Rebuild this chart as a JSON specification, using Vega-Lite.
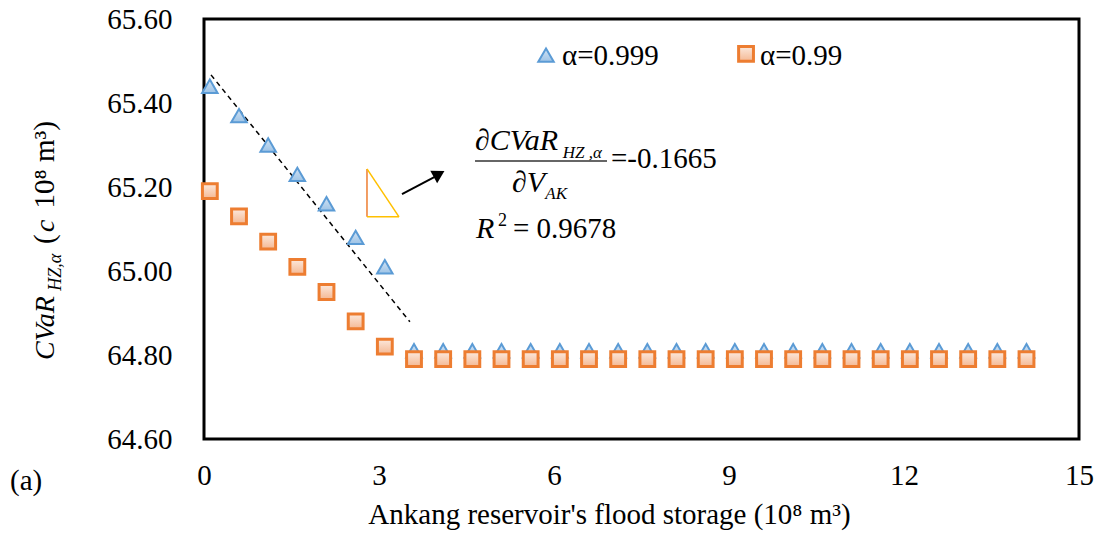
{
  "$schema": "https://vega.github.io/schema/vega-lite/v6.json",
  "width": 875,
  "height": 420,
  "autosize": {"type": "none"},
  "padding": {"left": 204, "top": 19, "right": 22, "bottom": 98},
  "background": "white",
  "config": {
    "font": "Liberation Serif",
    "view": {"stroke": "black", "strokeWidth": 3},
    "axis": {"domain": false, "ticks": false, "grid": false, "labelColor": "black", "labelFont": "Liberation Serif", "labelFontSize": 29, "titleFont": "Liberation Serif", "titleFontWeight": "normal", "titleColor": "black"}
  },
  "datasets": {
    "tri": [
      {"x": 0.1, "y": 65.44}, {"x": 0.6, "y": 65.37}, {"x": 1.1, "y": 65.30}, {"x": 1.6, "y": 65.23},
      {"x": 2.1, "y": 65.16}, {"x": 2.6, "y": 65.08}, {"x": 3.1, "y": 65.01}, {"x": 3.6, "y": 64.81},
      {"x": 4.1, "y": 64.81}, {"x": 4.6, "y": 64.81}, {"x": 5.1, "y": 64.81}, {"x": 5.6, "y": 64.81},
      {"x": 6.1, "y": 64.81}, {"x": 6.6, "y": 64.81}, {"x": 7.1, "y": 64.81}, {"x": 7.6, "y": 64.81},
      {"x": 8.1, "y": 64.81}, {"x": 8.6, "y": 64.81}, {"x": 9.1, "y": 64.81}, {"x": 9.6, "y": 64.81},
      {"x": 10.1, "y": 64.81}, {"x": 10.6, "y": 64.81}, {"x": 11.1, "y": 64.81}, {"x": 11.6, "y": 64.81},
      {"x": 12.1, "y": 64.81}, {"x": 12.6, "y": 64.81}, {"x": 13.1, "y": 64.81}, {"x": 13.6, "y": 64.81},
      {"x": 14.1, "y": 64.81}
    ],
    "sq": [
      {"x": 0.1, "y": 65.19}, {"x": 0.6, "y": 65.13}, {"x": 1.1, "y": 65.07}, {"x": 1.6, "y": 65.01},
      {"x": 2.1, "y": 64.95}, {"x": 2.6, "y": 64.88}, {"x": 3.1, "y": 64.82}, {"x": 3.6, "y": 64.79},
      {"x": 4.1, "y": 64.79}, {"x": 4.6, "y": 64.79}, {"x": 5.1, "y": 64.79}, {"x": 5.6, "y": 64.79},
      {"x": 6.1, "y": 64.79}, {"x": 6.6, "y": 64.79}, {"x": 7.1, "y": 64.79}, {"x": 7.6, "y": 64.79},
      {"x": 8.1, "y": 64.79}, {"x": 8.6, "y": 64.79}, {"x": 9.1, "y": 64.79}, {"x": 9.6, "y": 64.79},
      {"x": 10.1, "y": 64.79}, {"x": 10.6, "y": 64.79}, {"x": 11.1, "y": 64.79}, {"x": 11.6, "y": 64.79},
      {"x": 12.1, "y": 64.79}, {"x": 12.6, "y": 64.79}, {"x": 13.1, "y": 64.79}, {"x": 13.6, "y": 64.79},
      {"x": 14.1, "y": 64.79}
    ]
  },
  "layer": [
    {
      "data": {"values": [{"x": 0}]},
      "mark": {"type": "point", "opacity": 0},
      "encoding": {
        "x": {"field": "x", "type": "quantitative", "scale": {"domain": [0, 15], "nice": false, "zero": false},
              "axis": {"values": [0, 3, 6, 9, 12, 15], "format": "d", "labelFlush": false, "labelFont": "Liberation Serif", "labelFontSize": 29, "labelPadding": 22, "title": "Ankang reservoir's flood storage (10⁸ m³)", "titleFont": "Liberation Serif", "titleFontSize": 29, "titleX": 405, "titleY": 84, "titleAlign": "center", "titleBaseline": "alphabetic"}},
        "y": {"datum": 65, "type": "quantitative", "scale": {"domain": [64.6, 65.6], "nice": false, "zero": false},
              "axis": {"values": [64.6, 64.8, 65.0, 65.2, 65.4, 65.6], "format": ".2f", "labelFont": "Liberation Serif", "labelFontSize": 29, "labelPadding": 32, "title": null}}
      }
    },
    {
      "data": {"values": [{"x": 0.12, "y": 65.467, "x2": 3.53, "y2": 64.879}]},
      "mark": {"type": "rule", "color": "black", "strokeWidth": 1.5, "strokeDash": [5, 4]},
      "encoding": {"x": {"field": "x", "type": "quantitative"}, "y": {"field": "y", "type": "quantitative"}, "x2": {"field": "x2"}, "y2": {"field": "y2"}}
    },
    {
      "data": {"values": [{"x": 2.794, "y": 65.243, "x2": 2.794, "y2": 65.129}]},
      "mark": {"type": "rule", "color": "#ED7D31", "strokeWidth": 1.5},
      "encoding": {"x": {"field": "x", "type": "quantitative"}, "y": {"field": "y", "type": "quantitative"}, "x2": {"field": "x2"}, "y2": {"field": "y2"}}
    },
    {
      "data": {"values": [{"x": 2.794, "y": 65.129, "x2": 3.343, "y2": 65.129}, {"x": 2.794, "y": 65.243, "x2": 3.343, "y2": 65.129}]},
      "mark": {"type": "rule", "color": "#FFC000", "strokeWidth": 1.5},
      "encoding": {"x": {"field": "x", "type": "quantitative"}, "y": {"field": "y", "type": "quantitative"}, "x2": {"field": "x2"}, "y2": {"field": "y2"}}
    },
    {
      "data": {"values": [{"x": 3.394, "y": 65.183, "x2": 3.98, "y2": 65.226}]},
      "mark": {"type": "rule", "color": "black", "strokeWidth": 2},
      "encoding": {"x": {"field": "x", "type": "quantitative"}, "y": {"field": "y", "type": "quantitative"}, "x2": {"field": "x2"}, "y2": {"field": "y2"}}
    },
    {
      "data": {"values": [{"x": 4.03, "y": 65.231}]},
      "mark": {"type": "point", "shape": "triangle-up", "filled": true, "color": "black", "size": 200, "angle": 61, "opacity": 1},
      "encoding": {"x": {"field": "x", "type": "quantitative"}, "y": {"field": "y", "type": "quantitative"}}
    },
    {
      "data": {"values": [{"x": 4.646, "y": 65.262, "x2": 6.909, "y2": 65.262}]},
      "mark": {"type": "rule", "color": "#333333", "strokeWidth": 1.5},
      "encoding": {"x": {"field": "x", "type": "quantitative"}, "y": {"field": "y", "type": "quantitative"}, "x2": {"field": "x2"}, "y2": {"field": "y2"}}
    },
    {
      "data": {"name": "tri"},
      "mark": {"type": "point", "shape": "triangle-up", "size": 240, "opacity": 1, "stroke": "#5B9BD5", "strokeWidth": 2,
               "fill": {"gradient": "linear", "x1": 0, "y1": 0, "x2": 0, "y2": 1, "stops": [{"offset": 0, "color": "#D2E3F4"}, {"offset": 1, "color": "#9DC3E6"}]}},
      "encoding": {"x": {"field": "x", "type": "quantitative"}, "y": {"field": "y", "type": "quantitative"}}
    },
    {
      "data": {"values": [{"x": 5.863, "y": 65.514}]},
      "mark": {"type": "point", "shape": "triangle-up", "size": 240, "opacity": 1, "stroke": "#5B9BD5", "strokeWidth": 2,
               "fill": {"gradient": "linear", "x1": 0, "y1": 0, "x2": 0, "y2": 1, "stops": [{"offset": 0, "color": "#D2E3F4"}, {"offset": 1, "color": "#9DC3E6"}]}},
      "encoding": {"x": {"field": "x", "type": "quantitative"}, "y": {"field": "y", "type": "quantitative"}}
    },
    {
      "data": {"name": "sq"},
      "mark": {"type": "point", "shape": "square", "size": 220, "opacity": 1, "stroke": "#ED7D31", "strokeWidth": 3,
               "fill": {"gradient": "linear", "x1": 0, "y1": 0, "x2": 0, "y2": 1, "stops": [{"offset": 0, "color": "#FCE9DD"}, {"offset": 1, "color": "#F4B893"}]}},
      "encoding": {"x": {"field": "x", "type": "quantitative"}, "y": {"field": "y", "type": "quantitative"}}
    },
    {
      "data": {"values": [{"x": 9.292, "y": 65.517}]},
      "mark": {"type": "point", "shape": "square", "size": 220, "opacity": 1, "stroke": "#ED7D31", "strokeWidth": 3,
               "fill": {"gradient": "linear", "x1": 0, "y1": 0, "x2": 0, "y2": 1, "stops": [{"offset": 0, "color": "#FCE9DD"}, {"offset": 1, "color": "#F4B893"}]}},
      "encoding": {"x": {"field": "x", "type": "quantitative"}, "y": {"field": "y", "type": "quantitative"}}
    },
    {
      "data": {"values": [
        {"x": 6.137, "y": 65.49, "t": "α=0.999"},
        {"x": 9.532, "y": 65.49, "t": "α=0.99"},
        {"x": 6.977, "y": 65.245, "t": "=-0.1665"},
        {"x": 5.297, "y": 65.079, "t": "= 0.9678"},
        {"x": -3.326, "y": 64.479, "t": "(a)"}
      ]},
      "mark": {"type": "text", "align": "left", "baseline": "alphabetic", "font": "Liberation Serif", "fontSize": 29, "color": "black"},
      "encoding": {"x": {"field": "x", "type": "quantitative"}, "y": {"field": "y", "type": "quantitative"}, "text": {"field": "t"}}
    },
    {
      "data": {"values": [
        {"x": 4.646, "y": 65.288, "t": "∂CVaR"},
        {"x": 5.28, "y": 65.188, "t": "∂V"},
        {"x": 4.663, "y": 65.079, "t": "R"}
      ]},
      "mark": {"type": "text", "align": "left", "baseline": "alphabetic", "font": "Liberation Serif", "fontStyle": "italic", "fontSize": 30, "color": "black"},
      "encoding": {"x": {"field": "x", "type": "quantitative"}, "y": {"field": "y", "type": "quantitative"}, "text": {"field": "t"}}
    },
    {
      "data": {"values": [
        {"x": 6.15, "y": 65.268, "t": "HZ ,α"},
        {"x": 5.85, "y": 65.171, "t": "AK"}
      ]},
      "mark": {"type": "text", "align": "left", "baseline": "alphabetic", "font": "Liberation Serif", "fontStyle": "italic", "fontSize": 17, "color": "black"},
      "encoding": {"x": {"field": "x", "type": "quantitative"}, "y": {"field": "y", "type": "quantitative"}, "text": {"field": "t"}}
    },
    {
      "data": {"values": [{"x": 5.04, "y": 65.107, "t": "2"}]},
      "mark": {"type": "text", "align": "left", "baseline": "alphabetic", "font": "Liberation Serif", "fontSize": 18, "color": "black"},
      "encoding": {"x": {"field": "x", "type": "quantitative"}, "y": {"field": "y", "type": "quantitative"}, "text": {"field": "t"}}
    },
    {
      "data": {"values": [
        {"x": -2.571, "y": 64.788, "t": "CVaR"},
        {"x": -2.571, "y": 65.093, "t": "c"}
      ]},
      "mark": {"type": "text", "align": "left", "baseline": "alphabetic", "angle": 270, "font": "Liberation Serif", "fontStyle": "italic", "fontSize": 28, "color": "black"},
      "encoding": {"x": {"field": "x", "type": "quantitative"}, "y": {"field": "y", "type": "quantitative"}, "text": {"field": "t"}}
    },
    {
      "data": {"values": [{"x": -2.46, "y": 64.953, "t": "HZ,α"}]},
      "mark": {"type": "text", "align": "left", "baseline": "alphabetic", "angle": 270, "font": "Liberation Serif", "fontStyle": "italic", "fontSize": 18, "color": "black"},
      "encoding": {"x": {"field": "x", "type": "quantitative"}, "y": {"field": "y", "type": "quantitative"}, "text": {"field": "t"}}
    },
    {
      "data": {"values": [
        {"x": -2.571, "y": 65.064, "t": "("},
        {"x": -2.571, "y": 65.149, "t": "10⁸ m³)"}
      ]},
      "mark": {"type": "text", "align": "left", "baseline": "alphabetic", "angle": 270, "font": "Liberation Serif", "fontSize": 29, "color": "black"},
      "encoding": {"x": {"field": "x", "type": "quantitative"}, "y": {"field": "y", "type": "quantitative"}, "text": {"field": "t"}}
    }
  ]
}
